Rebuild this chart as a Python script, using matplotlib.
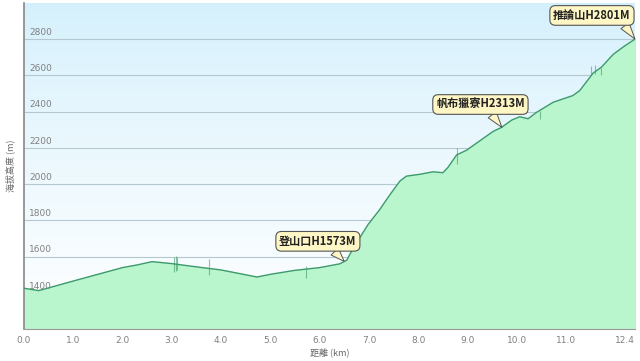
import numpy as np
import matplotlib.pyplot as plt

plt.rcParams['font.family'] = ['DejaVu Sans', 'Noto Sans CJK TC']

# --- elevation profile ---
dist_km = [0.0, 0.3, 1.0, 1.5, 2.0, 2.3, 2.6, 3.0, 3.5, 4.0, 4.73, 5.0, 5.5,
           6.0, 6.41, 6.55, 6.68, 6.98, 7.22, 7.43, 7.63, 7.76, 8.03, 8.3,
           8.5, 8.6, 8.78, 8.98, 9.25, 9.52, 9.69, 9.9, 10.06, 10.23, 10.4,
           10.74, 11.14, 11.28, 11.55, 11.72, 11.96, 12.16, 12.4]
elev_m = [1425, 1412, 1465, 1502, 1539, 1554, 1572, 1561, 1543, 1526, 1487,
          1502, 1524, 1539, 1560, 1580, 1646, 1776, 1860, 1943, 2017, 2044,
          2054, 2068, 2063, 2091, 2161, 2187, 2239, 2291, 2313, 2354, 2372,
          2361, 2396, 2452, 2489, 2517, 2613, 2646, 2717, 2757, 2801]

# GPS glitches drawn as thin vertical spikes
spike_km = [3.05, 3.08, 3.1, 3.75, 5.73, 8.78, 10.47, 11.5, 11.58, 11.7, 12.4]
spike_lo = [1515, 1520, 1525, 1498, 1483, 2109, 2359, 2605, 2610, 2600, 2757]
spike_hi = [1600, 1605, 1595, 1587, 1550, 2202, 2406, 2650, 2655, 2640, 2801]

# waypoints
wp_names = ['登山口H1573M', '帆布獵寮H2313M', '推論山H2801M']
wp_km = [6.5, 9.7, 12.4]
wp_elev = [1573, 2313, 2801]
wp_offset = [(-19, 14.5), (-15.5, 16.5), (-31, 17)]
wp_tail = [0.67, 0.6, 0.89]

xticks = [0, 1, 2, 3, 4, 5, 6, 7, 8, 9, 10, 11, 12.4]
yticks = [1400, 1600, 1800, 2000, 2200, 2400, 2600, 2800]

fig = plt.figure(figsize=(6.4, 3.61), dpi=100)
ax = fig.add_axes([24 / 640, 32 / 361, 611 / 640, 326 / 361])
ax.set_xlim(0, 12.4)
ax.set_ylim(1200, 3000)

# background gradient: light blue on top fading to white
grad = np.linspace(0, 1, 256).reshape(-1, 1)
top = np.array([0.83, 0.94, 0.99])
bot = np.array([1.0, 1.0, 1.0])
img = top + (bot - top) * grad[..., None] ** 0.8
ax.imshow(img, extent=[0, 1, 0, 1], transform=ax.transAxes,
          aspect='auto', zorder=0)

for y in yticks:
    ax.axhline(y, color='#b4c8d0', lw=0.8, zorder=1)

ax.fill_between(dist_km, elev_m, 1200, color='#b9f5cd', zorder=2)
ax.plot(dist_km, elev_m, color='#3d9a6c', lw=1.0, zorder=3)
ax.vlines(spike_km, spike_lo, spike_hi, color='#3d9a6c', alpha=0.6,
          lw=0.8, zorder=3)

for y in yticks:
    ax.text(0.1, y + 12, str(y), fontsize=6.5, color='#808080',
            va='bottom', ha='left', zorder=4)

for name, x, y, off, rp in zip(wp_names, wp_km, wp_elev, wp_offset, wp_tail):
    ax.annotate(name, xy=(x, y), xytext=off, textcoords='offset points',
                ha='center', va='center', fontsize=8, fontweight='bold',
                family=['Noto Sans CJK TC', 'DejaVu Sans'], color='#222222',
                bbox=dict(boxstyle='round,pad=0.3,rounding_size=0.5',
                          fc='#fef6c4', ec='#555555', lw=0.8),
                arrowprops=dict(arrowstyle='wedge,tail_width=0.9',
                                fc='#fef6c4', ec='#555555', lw=0.7,
                                relpos=(rp, 0.0), shrinkA=0, shrinkB=0),
                zorder=5, annotation_clip=False)

ax.set_xticks(xticks)
ax.set_xticklabels([f'{t:.1f}' for t in xticks], fontsize=6.5, color='#808080')
ax.get_xticklabels()[-1].set_ha('right')
ax.set_yticks([])
ax.tick_params(axis='x', length=0, pad=5)

ax.set_xlabel('距離 (km)', fontsize=6.5, color='#666666', labelpad=3,
              family=['Noto Sans CJK TC', 'DejaVu Sans'])
ax.set_ylabel('海拔高度 (m)', fontsize=6.5, color='#666666', labelpad=6,
              family=['Noto Sans CJK TC', 'DejaVu Sans'])

for s in ['top', 'right']:
    ax.spines[s].set_visible(False)
ax.spines['left'].set_color('#888888')
ax.spines['left'].set_linewidth(1.2)
ax.spines['bottom'].set_color('#999999')

fig.savefig('out.png', dpi=100)
